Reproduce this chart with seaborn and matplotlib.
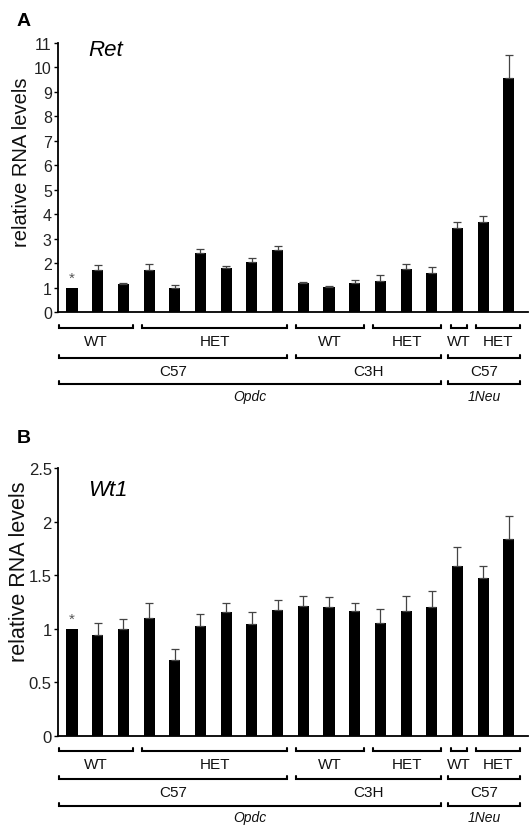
import matplotlib
matplotlib.use("Agg")
import matplotlib.pyplot as plt
import matplotlib.transforms as mtransforms
import seaborn as sns
import pandas as pd
import numpy as np

sns.set_theme(style="white")
plt.rcParams['font.family'] = ['Liberation Sans', 'DejaVu Sans']

# ---------------- data ----------------
samples = [str(i) for i in range(1, 19)]
ret_values = [1.00, 1.70, 1.13, 1.70, 1.00, 2.42, 1.80, 2.04, 2.52,
              1.18, 1.03, 1.17, 1.28, 1.77, 1.58, 3.43, 3.66, 9.57]
ret_errors = [0.00, 0.23, 0.05, 0.27, 0.10, 0.14, 0.08, 0.16, 0.18,
              0.06, 0.05, 0.15, 0.23, 0.19, 0.24, 0.23, 0.26, 0.94]
wt1_values = [1.00, 0.945, 1.00, 1.10, 0.71, 1.03, 1.157, 1.045, 1.173,
              1.213, 1.204, 1.167, 1.058, 1.167, 1.204, 1.59, 1.47, 1.84]
wt1_errors = [0.00, 0.11, 0.09, 0.14, 0.10, 0.11, 0.08, 0.11, 0.10,
              0.09, 0.09, 0.07, 0.13, 0.14, 0.15, 0.17, 0.12, 0.21]
ret_ticks = list(range(0, 12))
ret_ticklabels = [str(t) for t in ret_ticks]
wt1_ticks = [0, 0.5, 1, 1.5, 2, 2.5]
wt1_ticklabels = ["0", "0.5", "1", "1.5", "2", "2.5"]

# bracket groups: (first bar index, last bar index, label)
genotype_groups = [(0, 2, "WT"), (3, 8, "HET"), (9, 11, "WT"), (12, 14, "HET"),
                   (15, 15, "WT"), (16, 17, "HET")]
strain_groups = [(0, 8, "C57"), (9, 14, "C3H"), (15, 17, "C57")]
gene_groups = [(0, 14, "Opdc"), (15, 17, "1Neu")]

W, H = 530, 828
fig = plt.figure(figsize=(W / 100, H / 100), dpi=100)

X0, DX = 72.0, 25.7  # pixel of bar 0, pixel spacing


def px2data(px):
    return (px - X0) / DX


def fy(py):
    return 1 - py / H


def make_panel(top_px, bot_px, values, errors, ticks, ticklabels, ymax,
               letter, letter_y, gene, gene_y, ylabel_xy, ylabel_size,
               tick_size, rows):
    left_px, right_px = 58, 528
    ax = fig.add_axes([left_px / W, fy(bot_px), (right_px - left_px) / W,
                       (bot_px - top_px) / H])
    df = pd.DataFrame({"sample": samples, "value": values})
    sns.barplot(data=df, x="sample", y="value", order=samples, color="black",
                width=0.43, saturation=1, errorbar=None, ax=ax,
                edgecolor="black", linewidth=0)
    xs = np.arange(len(samples))
    err = np.array(errors)
    mask = err > 0
    ax.errorbar(xs[mask], np.array(values)[mask],
                yerr=[np.zeros(mask.sum()), err[mask]], fmt="none",
                ecolor="#444444", elinewidth=0.9, capsize=2.6, capthick=0.9)
    ax.text(0, values[0] + ymax * 0.010, "*", ha="center", va="bottom",
            fontsize=11, color="#555555")
    ax.set_xlim(px2data(left_px), px2data(right_px))
    ax.set_ylim(0, ymax)
    ax.set_yticks(ticks)
    ax.set_yticklabels(ticklabels)
    ax.set_xticks([])
    ax.set_xlabel("")
    ax.set_ylabel("")
    for s in ["top", "right"]:
        ax.spines[s].set_visible(False)
    for s in ["left", "bottom"]:
        ax.spines[s].set_color("black")
        ax.spines[s].set_linewidth(1.3)
    ax.tick_params(axis="y", which="both", left=True, length=3, width=1,
                   color="black", labelsize=tick_size, labelcolor="#222222",
                   pad=1.5)

    fig.text(17 / W, fy(letter_y), letter, fontsize=14, fontweight="bold",
             ha="left", va="center", color="black")
    fig.text(88 / W, fy(gene_y), gene, fontsize=16, style="italic",
             ha="left", va="center", color="black")
    fig.text(ylabel_xy[0] / W, fy(ylabel_xy[1]), "relative RNA levels",
             fontsize=ylabel_size, rotation=90, ha="center", va="center",
             color="#111111")

    trans = mtransforms.blended_transform_factory(ax.transData, fig.transFigure)
    for groups, line_y, label_y, italic in rows:
        for i0, i1, lab in groups:
            xa = i0 - 0.27
            xb = i1 + 0.36
            if i0 == 15 and lab in ("C57", "1Neu"):
                xa = px2data(448)
            if i0 == 0:
                xa = px2data(59)
            if i1 == 17:
                xb = px2data(520)
            tick = 3.5 / H
            ax.plot([xa, xa, xb, xb],
                    [fy(line_y) + tick, fy(line_y), fy(line_y), fy(line_y) + tick],
                    transform=trans, color="black", lw=1.5, clip_on=False,
                    solid_joinstyle="miter")
            ax.text((xa + xb) / 2, fy(label_y), lab, transform=trans,
                    ha="center", va="center", fontsize=11 if not italic else 10,
                    style="italic" if italic else "normal", color="#111111")
    return ax


make_panel(44, 313, ret_values, ret_errors, ret_ticks, ret_ticklabels, 11,
           "A", 22, "Ret", 51, (22, 162), 14.5, 11.5,
           [(genotype_groups, 329, 342, False),
            (strain_groups, 359, 372, False),
            (gene_groups, 385, 397, True)])

make_panel(469, 737, wt1_values, wt1_errors, wt1_ticks, wt1_ticklabels, 2.5,
           "B", 439, "Wt1", 491, (20, 572), 15.5, 12,
           [(genotype_groups, 752, 765, False),
            (strain_groups, 780, 793, False),
            (gene_groups, 807, 818, True)])

fig.savefig("out.png", dpi=100, facecolor="white")
